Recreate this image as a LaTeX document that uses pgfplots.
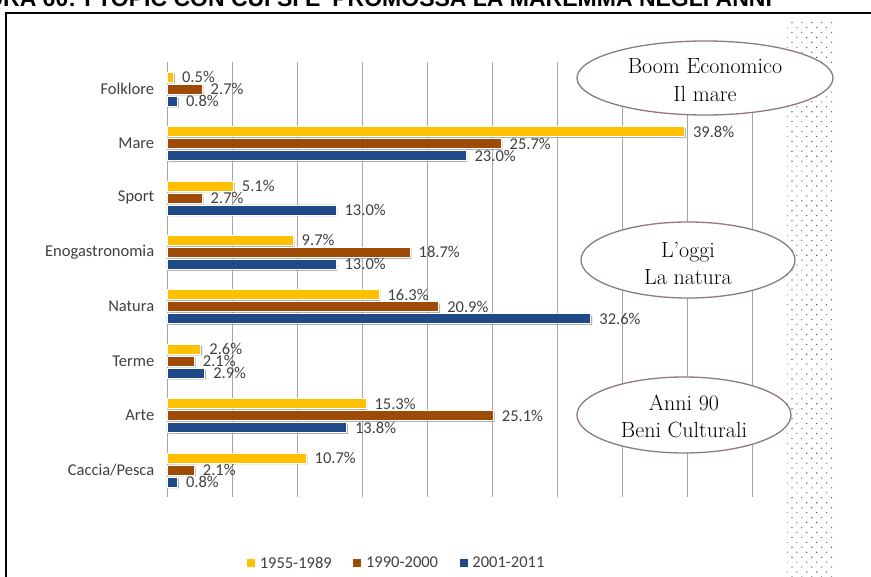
\documentclass[border=0pt]{standalone}
\usepackage{pgfplots}
\pgfplotsset{compat=1.18}
\usepackage{fontspec}
\usetikzlibrary{shadows,patterns.meta}
\newfontfamily\calibri{Carlito}
\newfontfamily\arialf{Liberation Sans}
\definecolor{yellowc}{HTML}{FFC000}
\definecolor{brownc}{HTML}{9E4B08}
\definecolor{bluec}{HTML}{1F4A87}
\definecolor{ellc}{HTML}{8E7B78}
\definecolor{labc}{HTML}{404040}
\begin{document}
\begin{tikzpicture}
% dotted band
\fill[pattern={Dots[radius=0.8pt,distance=7pt,angle=45]}, pattern color=black!60] (787pt,-20pt) rectangle (832pt,-580pt);
% frame
\draw[line width=2.2pt] (6pt,-590pt) -- (6pt,-13pt) -- (890pt,-13pt);
% title (cut off at the top in the reference)
\node[anchor=base west, inner sep=0pt, font=\arialf\bfseries\fontsize{23}{26}\selectfont] at (-52pt,-7pt) {FIGURA 60: I TOPIC CON CUI SI E' PROMOSSA LA MAREMMA NEGLI ANNI};
\begin{axis}[
  at={(167pt,-497pt)}, anchor=south west,
  scale only axis, width=585pt, height=435pt,
  xbar, bar width=10pt,
  xmin=0, xmax=45, ymin=-0.5, ymax=7.5, y dir=reverse,
  ytick={0,...,7},
  yticklabels={Folklore,Mare,Sport,Enogastronomia,Natura,Terme,Arte,Caccia/Pesca},
  xtick={0,5,...,45}, xticklabels={},
  xmajorgrids, major grid style={black!35, line width=0.8pt},
  axis line style={draw=none}, tick style={draw=none},
  yticklabel style={font=\calibri\fontsize{16.5}{19}\selectfont, text=labc, xshift=-5pt},
  clip=false,
  nodes near coords={\pgfmathprintnumber[fixed,fixed zerofill,precision=1,assume math mode=true]{\pgfplotspointmeta}\%},
  nodes near coords style={font=\calibri\fontsize{16.5}{19}\selectfont, text=labc, anchor=west, xshift=5pt},
  legend style={at={(0.393,-0.152)}, anchor=center, draw=none, fill=none,
    legend columns=3,
    nodes={font=\calibri\fontsize{16.5}{19}\selectfont, text=labc, inner xsep=2.5pt},
    /tikz/every even column/.append style={column sep=19pt}},
]
\addlegendimage{legend image code/.code={\fill[yellowc] (0pt,-3.5pt) rectangle (7pt,3.5pt); \path (10pt,0pt);}}
\addlegendimage{legend image code/.code={\fill[brownc] (0pt,-3.5pt) rectangle (7pt,3.5pt); \path (10pt,0pt);}}
\addlegendimage{legend image code/.code={\fill[bluec] (0pt,-3.5pt) rectangle (7pt,3.5pt); \path (10pt,0pt);}}
\addplot[fill=yellowc, draw=white, line width=0.6pt, bar shift=12pt,
  drop shadow={shadow xshift=1.5pt,shadow yshift=-1.5pt,opacity=0.3,fill=black}]
  coordinates {(0.5,0) (39.8,1) (5.1,2) (9.7,3) (16.3,4) (2.6,5) (15.3,6) (10.7,7)};
\addplot[fill=brownc, draw=white, line width=0.6pt, bar shift=0pt,
  drop shadow={shadow xshift=1.5pt,shadow yshift=-1.5pt,opacity=0.3,fill=black}]
  coordinates {(2.7,0) (25.7,1) (2.7,2) (18.7,3) (20.9,4) (2.1,5) (25.1,6) (2.1,7)};
\addplot[fill=bluec, draw=white, line width=0.6pt, bar shift=-12pt,
  drop shadow={shadow xshift=1.5pt,shadow yshift=-1.5pt,opacity=0.3,fill=black}]
  coordinates {(0.8,0) (23.0,1) (13.0,2) (13.0,3) (32.6,4) (2.9,5) (13.8,6) (0.8,7)};
\legend{1955-1989,1990-2000,2001-2011}
\end{axis}
% ellipses
\draw[draw=ellc, line width=1.3pt, fill=white] (705pt,-78pt) ellipse [x radius=128pt, y radius=37pt];
\node[anchor=base, inner sep=0pt, font=\fontsize{22}{26}\selectfont] at (705pt,-74pt) {Boom Economico};
\node[anchor=base, inner sep=0pt, font=\fontsize{22}{26}\selectfont] at (705pt,-102pt) {Il mare};
\draw[draw=ellc, line width=1.3pt, fill=white] (688pt,-260pt) ellipse [x radius=107pt, y radius=38pt];
\node[anchor=base, inner sep=0pt, font=\fontsize{22}{26}\selectfont] at (688pt,-258pt) {L’oggi};
\node[anchor=base, inner sep=0pt, font=\fontsize{22}{26}\selectfont] at (688pt,-285pt) {La natura};
\draw[draw=ellc, line width=1.3pt, fill=white] (684pt,-415pt) ellipse [x radius=107pt, y radius=38pt];
\node[anchor=base, inner sep=0pt, font=\fontsize{22}{26}\selectfont] at (684pt,-411pt) {Anni 90};
\node[anchor=base, inner sep=0pt, font=\fontsize{22}{26}\selectfont] at (684pt,-438pt) {Beni Culturali};
\pgfresetboundingbox
\useasboundingbox (0,0) rectangle (871pt,-577pt);
\end{tikzpicture}
\end{document}
